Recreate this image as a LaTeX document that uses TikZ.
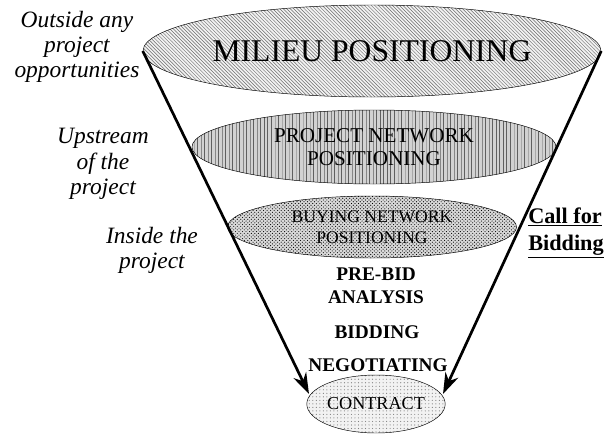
\documentclass[tikz,border=0pt]{standalone}
\usepackage{fontspec}
\setmainfont{Liberation Serif}
\usetikzlibrary{shapes.geometric,patterns,arrows.meta}

\begin{document}
\begin{tikzpicture}[x=0.03cm,y=-0.03cm,
    layer/.style={ellipse,draw,thin,inner sep=0pt,align=center},
    stage/.style={font=\fontsize{16.5}{20}\selectfont\bfseries,align=center},
    side/.style={font=\fontsize{20}{21.5}\selectfont\itshape,align=center},
    funnel/.style={line width=2.3pt,-{Stealth[length=18pt,width=12pt]}}]
    \useasboundingbox (0,0) rectangle (606,439);
    % funnel layers
    \node (milieu) [layer, minimum width=13.74cm, minimum height=2.76cm,
      preaction={fill=gray!10}, pattern=north west lines, pattern color=gray!85!black,
      font=\fontsize{27}{30}\selectfont] at (372,51) {MILIEU POSITIONING};
    \node (project) [layer, minimum width=10.92cm, minimum height=2.22cm,
      preaction={fill=gray!35}, pattern=vertical lines, pattern color=gray!75!black,
      font=\fontsize{18}{20}\selectfont] at (374,147) {PROJECT NETWORK\\POSITIONING};
    \node (buying) [layer, minimum width=8.67cm, minimum height=1.86cm,
      preaction={fill=gray!30}, pattern=crosshatch dots,
      font=\fontsize{15}{18}\selectfont] at (372,227) {BUYING NETWORK\\POSITIONING};
    \node (contract) [layer, minimum width=3.96cm, minimum height=1.74cm,
      preaction={fill=gray!10}, pattern=dots, pattern color=gray,
      font=\fontsize{15.5}{18}\selectfont] at (376,404) {CONTRACT};
    % stages inside the funnel
    \node (prebid) [stage] at (376,286) {PRE-BID\\ANALYSIS};
    \node (bidding) [stage] at (377,332) {BIDDING};
    \node (negotiating) [stage] at (378,365) {NEGOTIATING};
    % side labels
    \node (outside) [side] at (77,47) {Outside any\\project\\opportunities};
    \node (upstream) [side] at (103,164) {Upstream\\of the\\project};
    \node (inside) [side] at (152,250) {Inside the\\project};
    \node (call) [font=\fontsize{19}{23}\selectfont\bfseries,align=left]
      at (566,233) {\underline{Call for}\\\underline{Bidding}};
    % funnel sides
    \coordinate (tipl) at (309,394);
    \coordinate (tipr) at (443,394);
    \draw[funnel] (milieu.west) -- (tipl);
    \draw[funnel] (milieu.east) -- (tipr);
\end{tikzpicture}
\end{document}
